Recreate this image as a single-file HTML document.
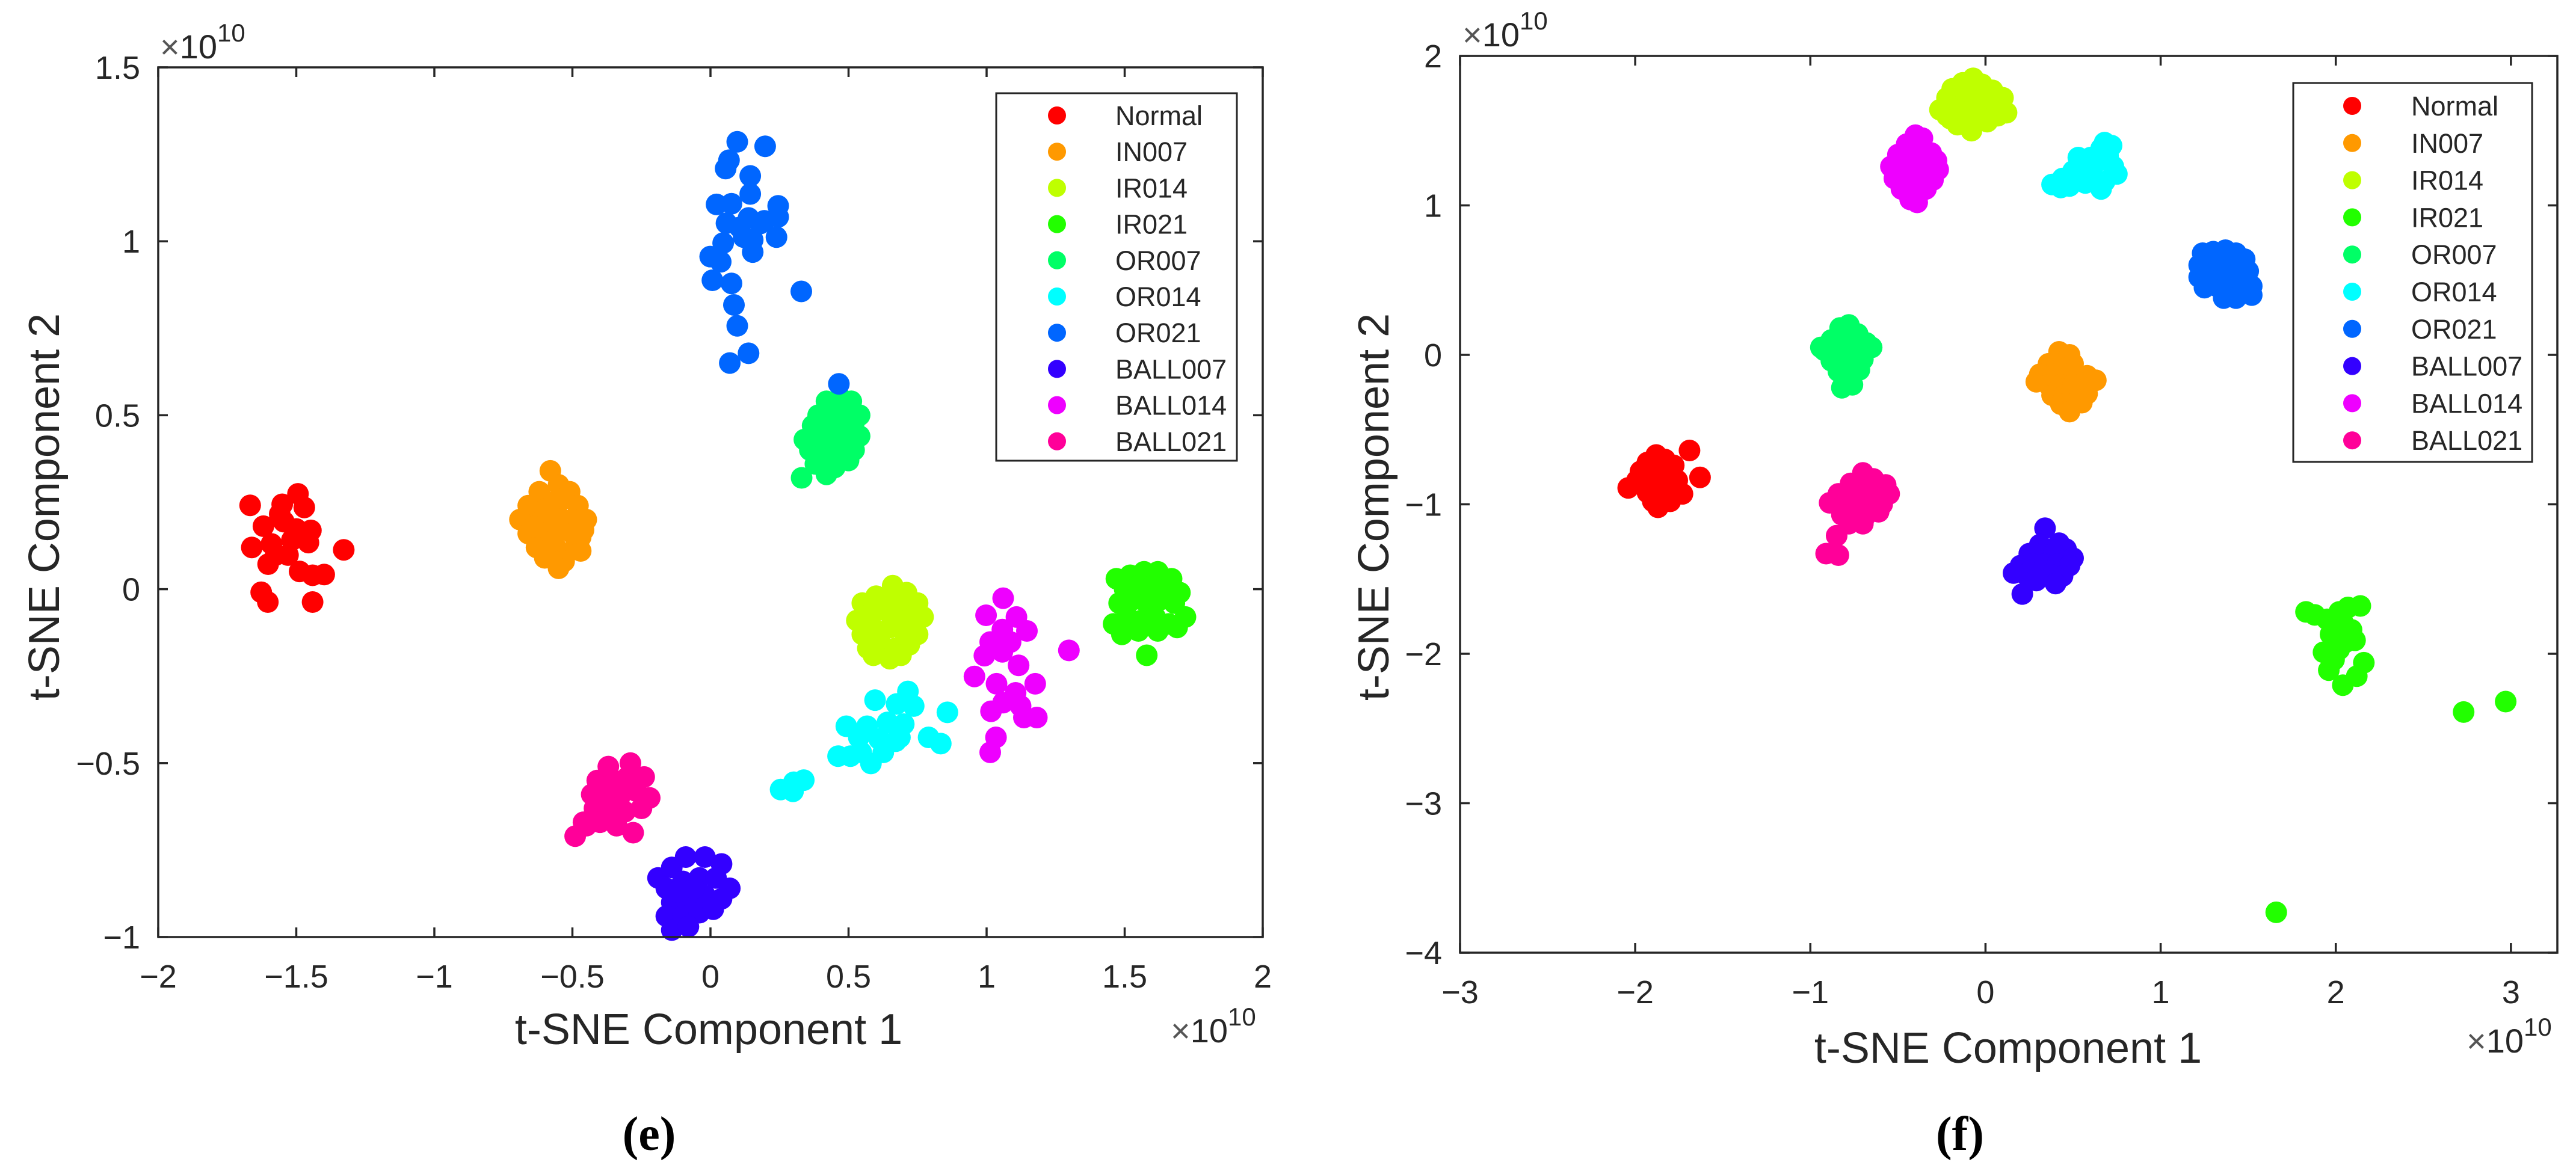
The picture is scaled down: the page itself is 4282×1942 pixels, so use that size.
<!DOCTYPE html>
<html><head><meta charset="utf-8"><title>t-SNE panels (e) and (f)</title>
<style>
html,body{margin:0;padding:0;background:#fff;}
svg{display:block;}
text{font-family:"Liberation Sans",Arial,sans-serif;fill:#262626;}
</style></head>
<body>
<svg id="fig" xmlns="http://www.w3.org/2000/svg" width="4282" height="1942" viewBox="0 0 4282 1942"></svg>
<script>
const classNames = ["Normal","IN007","IR014","IR021","OR007","OR014","OR021","BALL007","BALL014","BALL021"];
const classColors = ["#ff0000","#ff9900","#bfff00","#22ff00","#00ff66","#00ffff","#0066ff","#3300ff","#ee00ff","#ff0099"];

const xTicksE = [-2,-1.5,-1,-0.5,0,0.5,1,1.5,2];
const yTicksE = [-1,-0.5,0,0.5,1,1.5];
const xTickLabelsE = ["\u22122","\u22121.5","\u22121","\u22120.5","0","0.5","1","1.5","2"];
const yTickLabelsE = ["\u22121","\u22120.5","0","0.5","1","1.5"];
const xTicksF = [-3,-2,-1,0,1,2,3];
const yTicksF = [-4,-3,-2,-1,0,1,2];
const xTickLabelsF = ["\u22123","\u22122","\u22121","0","1","2","3"];
const yTickLabelsF = ["\u22124","\u22123","\u22122","\u22121","0","1","2"];

// Panel (e) data (units of 1e10)
const eNormal = [[-1.667,0.241],[-1.551,0.244],[-1.494,0.274],[-1.471,0.235],[-1.619,0.181],[-1.545,0.194],[-1.447,0.169],[-1.661,0.120],[-1.590,0.130],[-1.516,0.141],[-1.456,0.134],[-1.602,0.072],[-1.530,0.098],[-1.488,0.051],[-1.441,0.040],[-1.399,0.042],[-1.328,0.113],[-1.627,-0.009],[-1.603,-0.037],[-1.441,-0.037],[-1.560,0.216],[-1.500,0.173],[-1.575,0.098]];
const eIN007 = [[-0.58,0.34],[-0.55,0.30],[-0.62,0.28],[-0.51,0.28],[-0.66,0.24],[-0.57,0.25],[-0.48,0.24],[-0.69,0.20],[-0.62,0.20],[-0.55,0.21],[-0.50,0.20],[-0.45,0.20],[-0.66,0.16],[-0.59,0.16],[-0.52,0.17],[-0.47,0.15],[-0.63,0.12],[-0.56,0.12],[-0.49,0.12],[-0.60,0.09],[-0.53,0.08],[-0.47,0.11],[-0.55,0.06],[-0.58,0.18],[-0.53,0.26],[-0.60,0.23],[-0.50,0.16],[-0.57,0.14],[-0.64,0.18],[-0.46,0.17]];
const eIR014 = [[0.55,-0.04],[0.60,-0.02],[0.66,0.01],[0.71,-0.01],[0.75,-0.04],[0.53,-0.09],[0.58,-0.07],[0.63,-0.06],[0.68,-0.05],[0.73,-0.08],[0.77,-0.08],[0.55,-0.13],[0.60,-0.12],[0.65,-0.11],[0.70,-0.12],[0.75,-0.13],[0.57,-0.17],[0.62,-0.16],[0.67,-0.17],[0.72,-0.16],[0.59,-0.19],[0.65,-0.20],[0.69,-0.19],[0.64,-0.03],[0.58,-0.10],[0.68,-0.09]];
const eIR021 = [[1.47,0.03],[1.52,0.04],[1.57,0.05],[1.62,0.05],[1.67,0.03],[1.50,0.00],[1.55,0.01],[1.60,0.01],[1.65,0.00],[1.70,-0.01],[1.48,-0.04],[1.53,-0.03],[1.58,-0.04],[1.63,-0.03],[1.68,-0.04],[1.72,-0.08],[1.46,-0.10],[1.51,-0.08],[1.56,-0.09],[1.61,-0.08],[1.66,-0.10],[1.49,-0.13],[1.55,-0.12],[1.62,-0.12],[1.58,-0.19],[1.69,-0.11]];
const eOR007 = [[0.33,0.32],[0.42,0.33],[0.38,0.36],[0.45,0.35],[0.50,0.37],[0.36,0.40],[0.41,0.40],[0.47,0.40],[0.52,0.40],[0.34,0.43],[0.39,0.44],[0.44,0.43],[0.49,0.43],[0.54,0.44],[0.37,0.47],[0.42,0.47],[0.47,0.47],[0.52,0.48],[0.39,0.50],[0.44,0.51],[0.49,0.51],[0.54,0.50],[0.42,0.54],[0.47,0.55],[0.51,0.54],[0.45,0.38],[0.40,0.37],[0.48,0.45]];
const eOR014 = [[0.596,-0.319],[0.674,-0.330],[0.715,-0.294],[0.736,-0.336],[0.492,-0.394],[0.567,-0.394],[0.641,-0.383],[0.700,-0.388],[0.537,-0.426],[0.611,-0.431],[0.686,-0.426],[0.462,-0.480],[0.546,-0.469],[0.626,-0.469],[0.671,-0.437],[0.790,-0.426],[0.834,-0.444],[0.858,-0.354],[0.581,-0.501],[0.507,-0.480],[0.254,-0.576],[0.299,-0.581],[0.338,-0.549],[0.302,-0.555]];
const eOR021 = [[0.097,1.286],[0.198,1.273],[0.067,1.233],[0.055,1.209],[0.144,1.188],[0.144,1.136],[0.022,1.106],[0.076,1.108],[0.058,1.052],[0.138,1.067],[0.245,1.102],[0.245,1.070],[0.195,1.059],[0.120,1.012],[0.153,1.004],[0.239,1.012],[0.046,0.995],[0.153,0.969],[-0.001,0.956],[0.037,0.941],[0.007,0.888],[0.076,0.879],[0.329,0.856],[0.085,0.817],[0.097,0.757],[0.138,0.678],[0.070,0.650],[0.465,0.590],[0.106,1.040],[0.180,1.051]];
const eBALL007 = [[-0.19,-0.83],[-0.14,-0.80],[-0.09,-0.77],[-0.02,-0.77],[0.04,-0.79],[-0.16,-0.86],[-0.10,-0.84],[-0.04,-0.83],[0.02,-0.83],[0.07,-0.86],[-0.14,-0.90],[-0.08,-0.89],[-0.02,-0.88],[0.04,-0.89],[-0.16,-0.94],[-0.10,-0.94],[-0.04,-0.93],[0.01,-0.92],[-0.14,-0.98],[-0.08,-0.97],[-0.06,-0.86],[-0.12,-0.87]];
const eBALL014 = [[1.060,-0.026],[0.998,-0.075],[1.108,-0.080],[1.057,-0.116],[1.146,-0.120],[1.013,-0.152],[1.087,-0.152],[0.992,-0.191],[1.057,-0.180],[1.116,-0.219],[0.956,-0.251],[1.036,-0.272],[1.176,-0.272],[1.105,-0.298],[1.060,-0.326],[1.016,-0.351],[1.123,-0.336],[1.135,-0.369],[1.182,-0.369],[1.034,-0.426],[1.013,-0.469],[1.298,-0.176]];
const eBALL021 = [[-0.49,-0.71],[-0.45,-0.68],[-0.40,-0.67],[-0.34,-0.68],[-0.28,-0.70],[-0.42,-0.63],[-0.37,-0.64],[-0.31,-0.64],[-0.25,-0.63],[-0.22,-0.60],[-0.43,-0.59],[-0.38,-0.59],[-0.33,-0.60],[-0.27,-0.58],[-0.41,-0.55],[-0.35,-0.55],[-0.30,-0.54],[-0.24,-0.54],[-0.37,-0.51],[-0.29,-0.50],[-0.33,-0.57],[-0.38,-0.66],[-0.46,-0.67]];

// Panel (f) data (units of 1e10)
const fNormal = [[-2.04,-0.89],[-1.97,-0.78],[-1.93,-0.72],[-1.88,-0.67],[-1.83,-0.70],[-1.78,-0.74],[-1.96,-0.85],[-1.91,-0.80],[-1.86,-0.76],[-1.81,-0.79],[-1.76,-0.84],[-1.93,-0.92],[-1.88,-0.88],[-1.83,-0.86],[-1.78,-0.92],[-1.73,-0.93],[-1.90,-0.98],[-1.85,-0.96],[-1.80,-0.98],[-1.87,-1.02],[-1.69,-0.64],[-1.63,-0.82],[-1.99,-0.84],[-1.85,-0.71]];
const fIN007 = [[0.42,0.02],[0.48,0.00],[0.36,-0.06],[0.43,-0.06],[0.50,-0.06],[0.31,-0.13],[0.38,-0.13],[0.45,-0.13],[0.52,-0.13],[0.58,-0.14],[0.29,-0.18],[0.36,-0.20],[0.43,-0.20],[0.50,-0.20],[0.57,-0.19],[0.63,-0.17],[0.38,-0.27],[0.45,-0.27],[0.52,-0.26],[0.58,-0.26],[0.43,-0.33],[0.50,-0.33],[0.48,-0.38],[0.55,-0.32]];
const fIR014 = [[-0.26,1.64],[-0.22,1.72],[-0.19,1.78],[-0.13,1.82],[-0.07,1.85],[-0.02,1.81],[0.04,1.77],[0.10,1.72],[0.12,1.62],[-0.20,1.58],[-0.15,1.66],[-0.10,1.72],[-0.04,1.70],[0.02,1.66],[0.07,1.60],[-0.16,1.54],[-0.10,1.58],[-0.04,1.60],[0.01,1.56],[-0.08,1.50],[-0.22,1.60],[-0.12,1.77]];
const fIR021 = [[1.83,-1.72],[1.88,-1.74],[1.95,-1.77],[2.02,-1.72],[2.07,-1.69],[2.14,-1.68],[1.97,-1.87],[2.09,-1.84],[2.04,-1.79],[2.02,-1.97],[2.11,-1.91],[1.93,-1.99],[2.16,-2.06],[1.96,-2.11],[2.04,-2.21],[2.12,-2.15],[2.00,-1.85],[2.06,-1.92],[1.99,-2.04],[2.73,-2.39],[2.97,-2.32],[1.66,-3.73]];
const fOR007 = [[-0.83,0.18],[-0.78,0.20],[-0.73,0.14],[-0.88,0.10],[-0.82,0.11],[-0.76,0.10],[-0.68,0.08],[-0.92,0.03],[-0.86,0.04],[-0.80,0.03],[-0.74,0.04],[-0.65,0.05],[-0.88,-0.04],[-0.82,-0.04],[-0.76,-0.04],[-0.70,-0.03],[-0.84,-0.11],[-0.78,-0.11],[-0.72,-0.10],[-0.80,-0.18],[-0.76,-0.20],[-0.82,-0.22],[-0.94,0.05]];
const fOR014 = [[0.38,1.14],[0.43,1.12],[0.44,1.18],[0.50,1.16],[0.50,1.23],[0.55,1.20],[0.55,1.29],[0.60,1.25],[0.60,1.32],[0.65,1.30],[0.66,1.38],[0.70,1.33],[0.73,1.26],[0.75,1.21],[0.62,1.18],[0.68,1.16],[0.66,1.11],[0.57,1.15],[0.48,1.13],[0.68,1.42],[0.53,1.32],[0.72,1.40]];
const fOR021 = [[1.24,0.68],[1.30,0.69],[1.37,0.70],[1.43,0.68],[1.48,0.64],[1.22,0.60],[1.29,0.61],[1.36,0.62],[1.43,0.60],[1.50,0.56],[1.22,0.52],[1.29,0.53],[1.36,0.54],[1.43,0.52],[1.52,0.46],[1.25,0.45],[1.32,0.46],[1.40,0.45],[1.47,0.42],[1.36,0.38],[1.43,0.38],[1.52,0.40]];
const fBALL007 = [[0.34,-1.16],[0.31,-1.27],[0.42,-1.26],[0.46,-1.30],[0.25,-1.33],[0.32,-1.33],[0.39,-1.33],[0.50,-1.36],[0.20,-1.41],[0.27,-1.40],[0.34,-1.40],[0.41,-1.40],[0.48,-1.41],[0.16,-1.46],[0.23,-1.47],[0.30,-1.47],[0.37,-1.47],[0.44,-1.48],[0.40,-1.53],[0.21,-1.60],[0.29,-1.51]];
const fBALL014 = [[-0.40,1.47],[-0.36,1.45],[-0.45,1.41],[-0.37,1.39],[-0.50,1.34],[-0.44,1.33],[-0.37,1.34],[-0.31,1.35],[-0.54,1.26],[-0.47,1.26],[-0.40,1.26],[-0.33,1.27],[-0.27,1.24],[-0.52,1.18],[-0.45,1.18],[-0.38,1.18],[-0.30,1.17],[-0.48,1.11],[-0.41,1.10],[-0.34,1.11],[-0.43,1.04],[-0.39,1.02],[-0.28,1.30]];
const fBALL021 = [[-0.70,-0.79],[-0.64,-0.83],[-0.77,-0.86],[-0.70,-0.87],[-0.63,-0.88],[-0.57,-0.87],[-0.84,-0.93],[-0.77,-0.94],[-0.70,-0.94],[-0.63,-0.95],[-0.55,-0.93],[-0.89,-0.99],[-0.81,-1.00],[-0.74,-1.01],[-0.66,-1.01],[-0.59,-1.00],[-0.82,-1.07],[-0.75,-1.08],[-0.68,-1.07],[-0.61,-1.05],[-0.78,-1.13],[-0.70,-1.13],[-0.85,-1.21],[-0.91,-1.33],[-0.84,-1.34]];

const seriesE = [eNormal,eIN007,eIR014,eIR021,eOR007,eOR014,eOR021,eBALL007,eBALL014,eBALL021];
const seriesF = [fNormal,fIN007,fIR014,fIR021,fOR007,fOR014,fOR021,fBALL007,fBALL014,fBALL021];

const NS = "http://www.w3.org/2000/svg";
const svg = document.getElementById("fig");
function mk(tag, attrs, parent){
  const el = document.createElementNS(NS, tag);
  for (const k in attrs) el.setAttribute(k, attrs[k]);
  (parent||svg).appendChild(el);
  return el;
}

function drawPanel(cfg){
  const g = mk("g", {});
  
  
  const L=cfg.left,R=cfg.right,T=cfg.top,B=cfg.bottom;
  const sx = v => L + (v - cfg.xmin) / (cfg.xmax - cfg.xmin) * (R - L);
  const sy = v => B - (v - cfg.ymin) / (cfg.ymax - cfg.ymin) * (B - T);

  const pts = mk("g", {}, g);
  
  
  cfg.series.forEach((arr, ci) => {
    const sg = mk("g", {fill: classColors[ci]}, pts);
    
    
    arr.forEach(p => {
      const c = mk("circle", {cx: sx(p[0]).toFixed(1), cy: sy(p[1]).toFixed(1), r: 18}, sg);
      
      
    });
  });

  const frame = mk("rect", {x:L,y:T,width:R-L,height:B-T,fill:"none",stroke:"#262626","stroke-width":3.5}, g);
  
  

  const tk = 16;
  cfg.xt.forEach((v,i) => {
    const x = sx(v);
    const t1 = mk("line",{x1:x,y1:B,x2:x,y2:B-tk,stroke:"#262626","stroke-width":3.5},g);
    
    
    const t2 = mk("line",{x1:x,y1:T,x2:x,y2:T+tk,stroke:"#262626","stroke-width":3.5},g);
    
    
    const lb = mk("text",{x:x,y:B+84,"font-size":54,"text-anchor":"middle"},g);
    lb.textContent = cfg.xtl[i];
    
    
  });
  cfg.yt.forEach((v,i) => {
    const y = sy(v);
    const t1 = mk("line",{x1:L,y1:y,x2:L+tk,y2:y,stroke:"#262626","stroke-width":3.5},g);
    
    
    const t2 = mk("line",{x1:R,y1:y,x2:R-tk,y2:y,stroke:"#262626","stroke-width":3.5},g);
    
    
    const lb = mk("text",{x:L-30,y:y+19,"font-size":54,"text-anchor":"end"},g);
    lb.textContent = cfg.ytl[i];
    
    
  });

  const ey = mk("text",{x:cfg.eyx,y:cfg.eyy,"font-size":56},g);
  ey.innerHTML = '<tspan fill="#555">\u00d7</tspan>10<tspan font-size="42" dy="-28">10</tspan>';
  
  
  const ex = mk("text",{x:cfg.exx,y:cfg.exy,"font-size":56},g);
  ex.innerHTML = '<tspan fill="#555">\u00d7</tspan>10<tspan font-size="42" dy="-28">10</tspan>';
  
  

  const xt = mk("text",{x:cfg.xtitleX,y:cfg.xtitleY,"font-size":72,"text-anchor":"middle"},g);
  xt.textContent = "t-SNE Component 1";
  
  
  const yt = mk("text",{x:0,y:0,"font-size":72,"text-anchor":"middle",transform:`translate(${cfg.ytitleX},${cfg.ytitleY}) rotate(-90)`},g);
  yt.textContent = "t-SNE Component 2";
  
  

  const lg = mk("g",{},g);
  
  
  const lr = mk("rect",{x:cfg.lgx,y:cfg.lgy,width:cfg.lgw,height:cfg.lgh,fill:"#fff",stroke:"#262626","stroke-width":3},lg);
  
  
  classNames.forEach((n,i) => {
    const y = cfg.lrow0 + i*cfg.lstep;
    const e = mk("g",{},lg);
    
    
    const c = mk("circle",{cx:cfg.lmx,cy:y,r:15,fill:classColors[i]},e);
    
    
    const t = mk("text",{x:cfg.ltx,y:y+16,"font-size":45,fill:"#000"},e);
    t.textContent = n;
    
    
  });

  const cap = mk("text",{x:cfg.capX,y:1912,"font-size":80,"text-anchor":"middle","font-weight":"bold",style:'font-family:"Liberation Serif",serif;fill:#000'},g);
  cap.textContent = cfg.caption;
  
  
}

drawPanel({id:"panel-e",series:seriesE,left:263,right:2099,top:112,bottom:1558,xmin:-2,xmax:2,ymin:-1,ymax:1.5,
  xt:xTicksE,xtl:xTickLabelsE,yt:yTicksE,ytl:yTickLabelsE,
  eyx:266,eyy:97,exx:1946,exy:1733,xtitleX:1178,xtitleY:1736,ytitleX:98,ytitleY:843,
  lgx:1656,lgy:155,lgw:400,lgh:611,lmx:1757,ltx:1854,lrow0:192,lstep:60.2,capX:1079,caption:"(e)"});
drawPanel({id:"panel-f",series:seriesF,left:2427,right:4251,top:93,bottom:1584,xmin:-3,xmax:3.265,ymin:-4,ymax:2,
  xt:xTicksF,xtl:xTickLabelsF,yt:yTicksF,ytl:yTickLabelsF,
  eyx:2431,eyy:77,exx:4100,exy:1750,xtitleX:3338,xtitleY:1767,ytitleX:2308,ytitleY:843,
  lgx:3812,lgy:138,lgw:397,lgh:630,lmx:3910,ltx:4008,lrow0:176,lstep:61.8,capX:3258,caption:"(f)"});
</script>
</body></html>
